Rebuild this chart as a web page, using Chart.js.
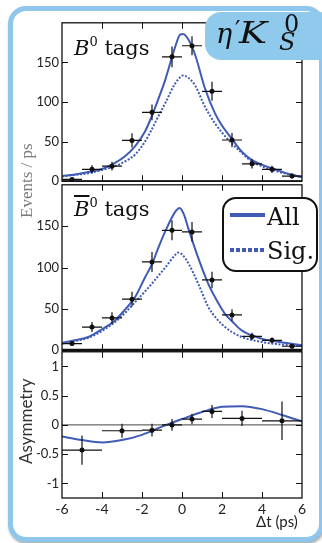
<!DOCTYPE html>
<html>
<head>
<meta charset="utf-8">
<script src="https://cdn.jsdelivr.net/npm/chart.js@4.4.0/dist/chart.umd.min.js"></script>
<style>
  html, body { margin: 0; padding: 0; background: #fff; }
  #wrap { position: relative; width: 322px; height: 543px; overflow: hidden; }
  #frame {
    position: absolute; left: 8px; top: 6px; width: 316px; height: 536px;
    box-sizing: border-box; border: 5px solid #8ec6ec; border-radius: 18px;
    box-shadow: 1px 2px 3px rgba(0, 0, 0, 0.35); background: #fff;
  }
  canvas { position: absolute; left: 0; }
  .txt { position: absolute; white-space: nowrap; line-height: 1; }
  .tag { font-family: "DejaVu Serif"; font-size: 21px; color: #111; }
  .tag sup { font-size: 13px; vertical-align: 9px; line-height: 0; }
  .rot { transform-origin: 0 0; transform: rotate(-90deg); }
  .lab { font-family: "DejaVu Serif"; color: #111; }
  #label {
    position: absolute; left: 205px; top: 12px; width: 130px; height: 48px;
    background: #8fcaed; border-radius: 16px;
  }
  #legend {
    position: absolute; left: 222px; top: 197px; width: 96px; height: 75px;
    box-sizing: border-box; border: 2px solid #111; border-radius: 14px; background: #fff;
  }
</style>
</head>
<body>
<div id="wrap">
  <div id="frame"></div>
  <canvas id="c1" width="322" height="180" style="top:12px;width:322px;height:180px"></canvas>
  <canvas id="c2" width="322" height="187" style="top:174px;width:322px;height:187px"></canvas>
  <canvas id="c3" width="322" height="202" style="top:341px;width:322px;height:202px"></canvas>

  <div class="txt tag" style="left:74px;top:38px"><i>B</i><sup>0</sup> tags</div>
  <div class="txt tag" style="left:74px;top:199px"><i style="text-decoration:overline">B</i><sup>0</sup> tags</div>

  <div class="txt rot" style="left:18px;top:218px;font-family:'Liberation Serif';font-size:17px;color:#7a7a7a">Events / ps</div>
  <div class="txt rot" style="left:17px;top:464px;font-family:Lato;font-size:17px;color:#333">Asymmetry</div>
  <div class="txt" style="left:256px;top:514px;font-family:Lato;font-size:15px;color:#222">Δt (ps)</div>

  <div id="label"></div>
  <div class="txt lab" style="left:216px;top:20px;font-size:27px;font-style:italic">η</div>
  <div class="txt lab" style="left:235px;top:18px;font-size:24px">′</div>
  <div class="txt lab" style="left:239px;top:18.5px;font-size:29px;font-style:italic;transform:scaleX(1.3);transform-origin:0 0">K</div>
  <div class="txt lab" style="left:284px;top:12px;font-size:24px">0</div>
  <div class="txt lab" style="left:279px;top:30px;font-size:24px;font-style:italic">S</div>

  <div id="legend"></div>
  <div style="position:absolute;left:230px;top:213px;width:35px;height:4px;background:#3f5bb5"></div>
  <div style="position:absolute;left:230px;top:248px;width:35px;height:4px;background:repeating-linear-gradient(90deg,#3f5bb5 0 4px,transparent 4px 6px)"></div>
  <div class="txt" style="left:267px;top:205px;font-family:'DejaVu Serif';font-size:24px;color:#111">All</div>
  <div class="txt" style="left:267px;top:239px;font-family:'DejaVu Serif';font-size:24px;color:#111">Sig.</div>
</div>

<script>
// axis ticks
const xTicks = [-6, -4, -2, 0, 2, 4, 6];
const evtTicks = [0, 50, 100, 150];
const asymTicks = [-1, -0.5, 0, 0.5, 1];

// 1 ps bins for the event histograms
const binCenters = [-5.5, -4.5, -3.5, -2.5, -1.5, -0.5, 0.5, 1.5, 2.5, 3.5, 4.5, 5.5];
const binHalf = [0.5, 0.5, 0.5, 0.5, 0.5, 0.5, 0.5, 0.5, 0.5, 0.5, 0.5, 0.5];

// B0 tags
const b0Counts = [2.3, 15, 19, 51.5, 87, 157, 171, 113.5, 52, 22, 15, 6.5];
const b0Errors = [2.5, 5, 5.5, 9, 10, 13, 12, 12, 9, 6, 4.5, 3];
const b0AllX = [-6, -5.35, -4.68, -4.02, -3.35, -2.85, -2.35, -1.85, -1.52, -1.18, -0.85, -0.35, -0.1, 0.05, 0.32, 0.65, 1.15, 1.65, 1.98, 2.48, 2.98, 3.48, 3.98, 4.65, 5.3, 6];
const b0AllY = [6.5, 8.5, 11.5, 15, 23, 31.5, 44, 62.7, 81.5, 104, 127, 169, 185, 186, 179, 160, 117, 85.6, 71, 54, 37.7, 27, 21, 15, 9.5, 5];
const b0SigX = [-6, -5.35, -4.68, -4.02, -3.35, -2.85, -2.35, -1.85, -1.52, -1.18, -0.85, -0.35, -0.1, 0.05, 0.3, 0.65, 1.15, 1.65, 1.98, 2.48, 2.98, 3.48, 3.98, 4.65, 5.3, 6];
const b0SigY = [6, 8, 10, 14, 19, 25, 33.5, 50, 65, 82, 98, 123, 131, 133.5, 131, 121, 94, 73, 62, 48, 36, 25, 19, 13, 9, 5];

// B0bar tags
const b0barCounts = [8, 28, 39, 61.7, 106.7, 145, 143, 85, 42.6, 16.7, 12, 4.8];
const b0barErrors = [3, 6, 7, 9, 12, 12, 12, 10, 7, 4.5, 3.5, 2.5];
const b0barAllX = [-6, -5.35, -4.68, -4.02, -3.35, -2.85, -2.35, -1.85, -1.52, -1.18, -0.85, -0.35, -0.12, 0.1, 0.32, 0.82, 1.32, 1.7, 2.15, 2.5, 2.98, 3.98, 4.9, 6];
const b0barAllY = [8.8, 12, 16, 25, 36, 49, 64, 88, 103, 124, 143, 167, 172, 164, 147, 111, 80, 62, 44, 35, 24, 14, 10, 6];
const b0barSigX = [-6, -5.35, -4.68, -4.02, -3.35, -2.85, -2.35, -1.85, -1.52, -1.18, -0.85, -0.35, -0.2, 0, 0.32, 0.82, 1.32, 1.7, 2.15, 2.5, 2.98, 3.98, 4.9, 6];
const b0barSigY = [8, 11, 15, 23, 34, 45, 58, 71, 80, 90, 99.5, 115, 118, 116, 105, 80, 52, 39, 28, 22, 16, 10, 7, 5];

// asymmetry
const asymX = [-5, -3, -1.5, -0.5, 0.5, 1.5, 3, 5];
const asymXErr = [1, 1, 0.5, 0.5, 0.5, 0.5, 1, 1];
const asymVal = [-0.43, -0.10, -0.09, 0.0, 0.10, 0.23, 0.11, 0.07];
const asymErr = [0.25, 0.12, 0.11, 0.10, 0.09, 0.11, 0.13, 0.33];
const asymCurveX = [-6, -5, -4, -3, -2, -1, 0, 1, 2, 3, 4, 5, 6];
const asymCurveY = [-0.20, -0.26, -0.30, -0.26, -0.17, -0.03, 0.10, 0.22, 0.31, 0.32, 0.27, 0.17, 0.06];

const BLUE = "#3f5bb5";
const tickFont = { family: "Lato", size: 13 };

function pts(xs, ys) {
  return xs.map((x, i) => ({ x: x, y: ys[i] }));
}

// error bars, inward ticks and the black frame of each panel
const panelPlugin = {
  id: "panel",
  beforeDatasetsDraw(chart, args, opts) {
    if (!opts.zeroLine) return;
    const { ctx, chartArea: a, scales: { y } } = chart;
    const py = y.getPixelForValue(0);
    ctx.save();
    ctx.strokeStyle = "#444";
    ctx.lineWidth = 1;
    ctx.beginPath();
    ctx.moveTo(a.left, py);
    ctx.lineTo(a.right, py);
    ctx.stroke();
    ctx.restore();
  },
  afterDatasetsDraw(chart) {
    const { ctx, scales: { x, y } } = chart;
    ctx.save();
    ctx.strokeStyle = "#111";
    ctx.lineWidth = 1.2;
    chart.data.datasets.forEach((ds) => {
      if (!ds.errY) return;
      ds.data.forEach((p, j) => {
        const px = x.getPixelForValue(p.x);
        const py = y.getPixelForValue(p.y);
        ctx.beginPath();
        ctx.moveTo(x.getPixelForValue(p.x - ds.errX[j]), py);
        ctx.lineTo(x.getPixelForValue(p.x + ds.errX[j]), py);
        ctx.moveTo(px, y.getPixelForValue(p.y - ds.errY[j]));
        ctx.lineTo(px, y.getPixelForValue(p.y + ds.errY[j]));
        ctx.stroke();
      });
    });
    ctx.restore();
  },
  afterDraw(chart, args, opts) {
    const { ctx, chartArea: a, scales: { x, y } } = chart;
    ctx.save();
    ctx.strokeStyle = "#111";
    ctx.lineWidth = 1;
    ctx.beginPath();
    xTicks.forEach((v) => {
      const px = Math.round(x.getPixelForValue(v)) + 0.5;
      if (px <= a.left + 1 || px >= a.right - 1) return;
      ctx.moveTo(px, a.top);
      ctx.lineTo(px, a.top + 6);
      ctx.moveTo(px, a.bottom);
      ctx.lineTo(px, a.bottom - 6);
    });
    opts.yTicks.forEach((v) => {
      const py = Math.round(y.getPixelForValue(v)) + 0.5;
      if (py <= a.top + 1 || py >= a.bottom - 1) return;
      ctx.moveTo(a.left, py);
      ctx.lineTo(a.left + 6, py);
      ctx.moveTo(a.right, py);
      ctx.lineTo(a.right - 6, py);
    });
    ctx.stroke();
    ctx.lineWidth = 1.3;
    ctx.strokeRect(a.left, a.top, a.right - a.left, a.bottom - a.top);
    if (opts.bottomWidth) {
      ctx.lineWidth = opts.bottomWidth;
      ctx.beginPath();
      ctx.moveTo(a.left, a.bottom);
      ctx.lineTo(a.right, a.bottom);
      ctx.stroke();
    }
    ctx.restore();
  },
};

function histSets(counts, errors, allX, allY, sigX, sigY) {
  return [
    {
      type: "scatter",
      data: pts(binCenters, counts),
      errX: binHalf,
      errY: errors,
      pointRadius: 2.5,
      pointBackgroundColor: "#111",
      pointBorderWidth: 0,
      order: 0,
    },
    {
      type: "line",
      data: pts(allX, allY),
      borderColor: BLUE,
      borderWidth: 2,
      pointRadius: 0,
      cubicInterpolationMode: "monotone",
      order: 1,
    },
    {
      type: "line",
      data: pts(sigX, sigY),
      borderColor: BLUE,
      borderWidth: 2,
      borderDash: [2, 1.6],
      pointRadius: 0,
      cubicInterpolationMode: "monotone",
      order: 2,
    },
  ];
}

function yAxis(min, max, ticks) {
  return {
    type: "linear",
    min: min,
    max: max,
    afterBuildTicks: (s) => {
      s.ticks = ticks.map((v) => ({ value: v }));
    },
    afterFit: (s) => {
      s.width = 62;
    },
    grid: { display: false, drawTicks: false },
    border: { display: false },
    ticks: { padding: 3, font: tickFont, color: "#222", callback: (v) => String(v) },
  };
}

function xAxis(show) {
  const axis = {
    type: "linear",
    min: -6,
    max: 6,
    display: show,
    afterBuildTicks: (s) => {
      s.ticks = xTicks.map((v) => ({ value: v }));
    },
    grid: { display: false, drawTicks: false },
    border: { display: false },
    ticks: { padding: 3, font: { family: "Lato", size: 14 }, color: "#222", maxRotation: 0, autoSkip: false, callback: (v) => String(v) },
  };
  if (show) {
    axis.afterFit = (s) => {
      s.height = 45;
    };
  }
  return axis;
}

function makePanel(id, datasets, yScale, xShow, padding, pluginOpts) {
  return new Chart(document.getElementById(id), {
    data: { datasets: datasets },
    options: {
      responsive: false,
      animation: false,
      layout: { padding: padding },
      plugins: { legend: { display: false }, tooltip: { enabled: false }, panel: pluginOpts },
      scales: { x: xAxis(xShow), y: yScale },
    },
    plugins: [panelPlugin],
  });
}

makePanel(
  "c1",
  histSets(b0Counts, b0Errors, b0AllX, b0AllY, b0SigX, b0SigY),
  yAxis(0, 200, evtTicks),
  false,
  { left: 0, right: 20, top: 10, bottom: 8 },
  { yTicks: evtTicks, bottomWidth: 1.8 }
);

makePanel(
  "c2",
  histSets(b0barCounts, b0barErrors, b0barAllX, b0barAllY, b0barSigX, b0barSigY),
  yAxis(0, 200, evtTicks),
  false,
  { left: 0, right: 20, top: 10, bottom: 10 },
  { yTicks: evtTicks, bottomWidth: 3 }
);

makePanel(
  "c3",
  [
    {
      type: "scatter",
      data: pts(asymX, asymVal),
      errX: asymXErr,
      errY: asymErr,
      pointRadius: 2.5,
      pointBackgroundColor: "#111",
      pointBorderWidth: 0,
      order: 0,
    },
    {
      type: "line",
      data: pts(asymCurveX, asymCurveY),
      borderColor: BLUE,
      borderWidth: 2,
      pointRadius: 0,
      cubicInterpolationMode: "monotone",
      order: 1,
    },
  ],
  yAxis(-1.25, 1.25, asymTicks),
  true,
  { left: 0, right: 20, top: 10, bottom: 0 },
  { yTicks: asymTicks, zeroLine: true }
);
</script>
</body>
</html>
